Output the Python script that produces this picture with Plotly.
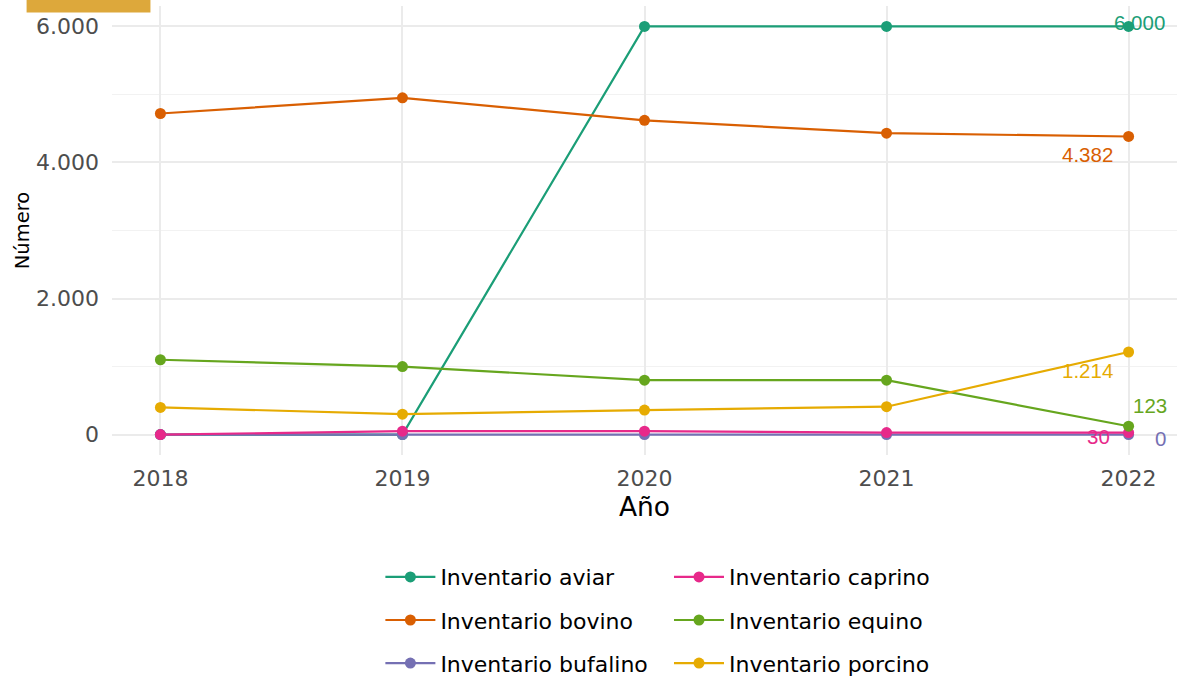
import plotly.graph_objects as go

years = [2018, 2019, 2020, 2021, 2022]
series_names = ["Inventario aviar", "Inventario bovino", "Inventario bufalino",
                "Inventario caprino", "Inventario equino", "Inventario porcino"]
aviar = [0, 0, 6000, 6000, 6000]
bovino = [4720, 4950, 4620, 4430, 4382]
bufalino = [0, 0, 0, 0, 0]
caprino = [0, 50, 50, 30, 30]
equino = [1100, 1000, 800, 800, 123]
porcino = [400, 300, 360, 410, 1214]
colors = ["#1B9E77", "#D95F02", "#7570B3", "#E7298A", "#66A61E", "#E6AB02"]
end_labels = ["6.000", "4.382", "0", "30", "123", "1.214"]
label_shift = [(11, 4), (-41, -18), (32, -4), (-30, -4), (21, 21), (-41, -18)]

values = [aviar, bovino, bufalino, caprino, equino, porcino]
legend_ids = ["legend", "legend", "legend", "legend2", "legend2", "legend2"]

fig = go.Figure()
for name, vals, col, lg in zip(series_names, values, colors, legend_ids):
    fig.add_trace(go.Scatter(
        x=years, y=vals, name=name, mode="lines+markers",
        line=dict(color=col, width=2.2),
        marker=dict(color=col, size=11),
        legend=lg, legendgroup=name,
    ))

for vals, col, lab, (dx, dy) in zip(values, colors, end_labels, label_shift):
    fig.add_annotation(x=years[-1], y=vals[-1], text=lab, showarrow=False,
                       xshift=dx, yshift=dy,
                       font=dict(family="Liberation Sans, Arial", size=20.5, color=col))

fig.add_shape(type="rect", xref="paper", yref="paper",
              x0=-0.0802, x1=0.0361, y0=0.9856, y1=1.02,
              fillcolor="#DDA83B", line=dict(width=0), layer="above")

legend_common = dict(orientation="v", yanchor="top", xanchor="left", yref="container",
                     font=dict(family="DejaVu Sans", size=22, color="#000000"),
                     tracegroupgap=11.5, itemwidth=50, bgcolor="rgba(0,0,0,0)")
fig.update_layout(
    width=1177, height=679,
    margin=dict(l=111.5, r=0, t=5.5, b=223.5),
    paper_bgcolor="white", plot_bgcolor="white",
    separators=",.",
    font=dict(family="DejaVu Sans"),
    legend=dict(x=0.252, y=0.181, **legend_common),
    legend2=dict(x=0.523, y=0.181, **legend_common),
    xaxis=dict(range=[2017.8, 2022.2], tickvals=years, ticktext=[str(y) for y in years],
               showgrid=True, gridcolor="#EBEBEB", gridwidth=2, zeroline=False,
               showline=False, ticks="", ticklabelstandoff=8,
               tickfont=dict(size=22, color="#4D4D4D"),
               title=dict(text="Año", font=dict(size=26.5, color="#000000"), standoff=0)),
    yaxis=dict(range=[-300, 6300], tickvals=[0, 2000, 4000, 6000], tickformat=",d",
               showgrid=True, gridcolor="#EBEBEB", gridwidth=2, zeroline=False,
               showline=False, ticks="", ticklabelstandoff=12,
               minor=dict(tickvals=[1000, 3000, 5000], showgrid=True,
                          gridcolor="#F2F2F2", gridwidth=1),
               tickfont=dict(size=22, color="#4D4D4D"),
               title=dict(text="Número", font=dict(size=19.5, color="#000000"), standoff=1)),
)

fig.write_html("out.html", config={"displayModeBar": False},
               post_script="document.body.style.margin='0';document.body.style.overflow='hidden';")
